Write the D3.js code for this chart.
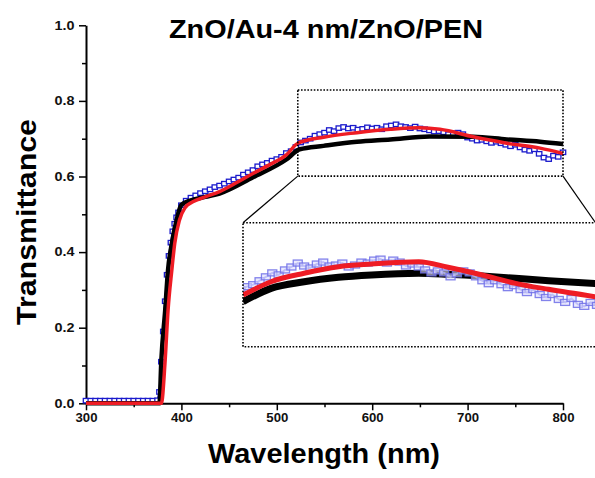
<!DOCTYPE html>
<html><head><meta charset="utf-8">
<script src="https://cdn.jsdelivr.net/npm/d3@7"></script>
<style>
body{margin:0;background:#fff}
text{font-family:Arial,"Liberation Sans",Helvetica,sans-serif;font-weight:bold}
</style>
</head><body>
<svg id="c" width="595" height="478"></svg>
<script>
// ---------- data ----------
const title = "ZnO/Au-4 nm/ZnO/PEN";
const xLabel = "Wavelength (nm)";
const yLabel = "Transmittance";
const xTicks = [300,400,500,600,700,800];
const xMinor = [350,450,550,650,750];
const yTicks = [0,0.2,0.4,0.6,0.8,1.0];
const yMinor = [0.1,0.3,0.5,0.7,0.9];

// black curve
const blackWl = [300,377,379,383,386,390,395,400,409,425,440,475,510,524,549,584,619,660,706,741,776,800];
const blackT  = [0,0,0.115,0.246,0.353,0.423,0.485,0.525,0.536,0.546,0.555,0.598,0.645,0.672,0.681,0.692,0.698,0.706,0.705,0.698,0.692,0.686];
// red curve
const redWl = [300,379,383,386,390,393,398,404,412,425,440,458,475,493,510,522,549,584,619,650,671,706,741,776,800];
const redT  = [0,0,0.115,0.246,0.353,0.423,0.485,0.518,0.533,0.546,0.560,0.584,0.608,0.632,0.657,0.688,0.704,0.716,0.725,0.729,0.725,0.705,0.688,0.675,0.661];
// blue measured points
const blueWl = [300,305,310,315,320,325,330,335,340,345,350,355,360,365,370,375,
  377,379,381,383,385,387,389,391,393,395,397,400,
  405,410,415,420,425,430,435,440,445,450,455,460,465,470,475,480,485,490,495,500,
  505,510,515,520,525,530,535,540,545,550,555,560,565,570,575,580,585,590,595,600,
  605,610,615,620,625,630,635,640,645,650,655,660,665,670,675,680,685,690,695,700,
  705,710,715,720,725,730,735,740,745,750,755,760,765,770,775,780,785,790,795,800];
const blueT = [0.007,0.007,0.007,0.007,0.007,0.007,0.007,0.007,0.007,0.007,0.007,0.007,0.007,0.007,0.007,0.008,
  0.03,0.11,0.19,0.27,0.34,0.39,0.425,0.455,0.475,0.492,0.505,0.524,
  0.536,0.544,0.550,0.556,0.561,0.566,0.572,0.576,0.581,0.587,0.592,0.597,0.605,0.611,0.617,0.627,0.632,0.636,0.642,0.646,
  0.652,0.662,0.667,0.678,0.690,0.695,0.700,0.708,0.712,0.716,0.723,0.720,0.728,0.731,0.727,0.729,0.724,0.726,0.730,0.727,
  0.729,0.725,0.733,0.735,0.738,0.733,0.731,0.728,0.732,0.727,0.725,0.722,0.719,0.720,0.717,0.712,0.714,0.716,0.712,0.703,
  0.700,0.695,0.697,0.693,0.689,0.692,0.688,0.684,0.680,0.684,0.677,0.671,0.668,0.672,0.660,0.650,0.646,0.655,0.652,0.664];

// magnified inset (as drawn in the enlarged box)
const insetRange = [522,800];
const insetTRange = [0.641,0.767];
const insetRedWl = [522,544,570,597,623,660,683,710,736,762,800];
const insetRedT  = [0.6935,0.707,0.7156,0.7223,0.725,0.7274,0.7217,0.7139,0.7054,0.6993,0.6915];
const insetBlackWl = [522,544,570,597,623,660,683,710,736,762,800];
const insetBlackT  = [0.6867,0.7003,0.707,0.7115,0.7139,0.7156,0.7146,0.7128,0.7105,0.7081,0.7052];
const insetBlueWl = [520,525,530,535,540,545,550,555,560,565,570,575,580,585,590,595,600,605,610,615,620,625,630,635,640,645,650,655,660,665,670,675,680,685,690,695,700,705,710,715,720,725,730,735,740,745,750,755,760,765,770,775,780,785,790,795,800];
const insetBlueT  = [0.699,0.702,0.704,0.708,0.712,0.716,0.714,0.719,0.722,0.726,0.723,0.721,0.725,0.727,0.723,0.724,0.726,0.722,0.724,0.727,0.726,0.729,0.730,0.726,0.729,0.727,0.723,0.725,0.722,0.719,0.716,0.718,0.716,0.712,0.715,0.718,0.716,0.712,0.708,0.705,0.708,0.704,0.701,0.703,0.699,0.696,0.699,0.694,0.691,0.694,0.689,0.686,0.690,0.684,0.682,0.686,0.683];
// zoom box in data units
const boxWl = [522,800];
const boxT = [0.601,0.829];

// ---------- drawing ----------
const svg = d3.select("#c");
const x = d3.scaleLinear().domain([300,800]).range([86,563]);
const y = d3.scaleLinear().domain([0,1]).range([403.3,25.3]);

const zip = (a,b)=>a.map((v,i)=>[v,b[i]]);

// title
svg.append("text").attr("x",326).attr("y",38).attr("text-anchor","middle")
  .attr("font-size",25).attr("textLength",314).attr("lengthAdjust","spacingAndGlyphs").text(title);
// axis titles
svg.append("text").attr("x",324).attr("y",463).attr("text-anchor","middle")
  .attr("font-size",27).attr("textLength",232).attr("lengthAdjust","spacingAndGlyphs").text(xLabel);
svg.append("text").attr("transform","translate(36,222) rotate(-90)").attr("text-anchor","middle")
  .attr("font-size",27).attr("textLength",206).attr("lengthAdjust","spacingAndGlyphs").text(yLabel);

// axes
function styleAxis(g){
  g.select(".domain").attr("stroke","#000").attr("stroke-width",2);
  g.selectAll(".tick line").attr("stroke","#000").attr("stroke-width",1.5);
  g.selectAll(".tick text").attr("font-size",12).attr("font-weight","bold")
   .attr("font-family","Arial, 'Liberation Sans', sans-serif").attr("fill","#111");
}
const gx = svg.append("g").attr("transform",`translate(0,${y(0)})`)
  .call(d3.axisBottom(x).tickValues(xTicks).tickSize(7).tickSizeOuter(0).tickPadding(3).tickFormat(d3.format("d")));
styleAxis(gx);
gx.selectAll(".tick text").attr("transform","scale(1.1,1)");
const gxm = svg.append("g").attr("transform",`translate(0,${y(0)})`)
  .call(d3.axisBottom(x).tickValues(xMinor).tickSize(4).tickSizeOuter(0).tickFormat(""));
gxm.select(".domain").remove(); styleAxis(gxm);
const gy = svg.append("g").attr("transform",`translate(${x(300)},0)`)
  .call(d3.axisLeft(y).tickValues(yTicks).tickSize(7).tickSizeOuter(0).tickPadding(3).tickFormat(d3.format(".1f")));
styleAxis(gy);
gy.selectAll(".tick text").attr("x",-9.6).attr("transform","scale(1.2,1)");
const gym = svg.append("g").attr("transform",`translate(${x(300)},0)`)
  .call(d3.axisLeft(y).tickValues(yMinor).tickSize(4).tickSizeOuter(0).tickFormat(""));
gym.select(".domain").remove(); styleAxis(gym);

// zoom box (dotted)
const bx0=x(boxWl[0]), bx1=x(boxWl[1]), by0=y(boxT[1]), by1=y(boxT[0]);
const ix = d3.scaleLinear().domain(insetRange).range([243,597]);
const iy = d3.scaleLinear().domain(insetTRange).range([346.7,222.7]);

// main curves
const line = d3.line().x(d=>x(d[0])).y(d=>y(d[1]));
const smooth = d3.line().x(d=>x(d[0])).y(d=>y(d[1])).curve(d3.curveMonotoneX);
svg.append("path").datum(zip(blueWl,blueT)).attr("d",line)
  .attr("fill","none").attr("stroke","#1a1acc").attr("stroke-width",2);
svg.append("g").selectAll("rect").data(zip(blueWl,blueT)).join("rect")
  .attr("x",d=>x(d[0])-2.7).attr("y",d=>y(d[1])-2.2).attr("width",5.4).attr("height",4.4)
  .attr("fill","#fff").attr("stroke","#1a1acc").attr("stroke-width",1.3);
svg.append("path").datum(zip(blackWl,blackT)).attr("d",smooth)
  .attr("fill","none").attr("stroke","#000").attr("stroke-width",4.5).attr("stroke-linejoin","round");
svg.append("path").datum(zip(redWl,redT)).attr("d",smooth)
  .attr("fill","none").attr("stroke","#ee1c24").attr("stroke-width",3.5).attr("stroke-linejoin","round");

// dotted zoom rectangle and connectors
svg.append("rect").attr("x",bx0).attr("y",by0).attr("width",bx1-bx0).attr("height",by1-by0)
  .attr("fill","none").attr("stroke","#000").attr("stroke-width",1.6).attr("stroke-dasharray","1.6 1.6");
svg.append("line").attr("x1",bx0).attr("y1",by1).attr("x2",ix(insetRange[0])).attr("y2",iy(insetTRange[1]))
  .attr("stroke","#000").attr("stroke-width",1.2);
svg.append("line").attr("x1",bx1).attr("y1",by1).attr("x2",ix(insetRange[1])-1.5).attr("y2",iy(insetTRange[1]))
  .attr("stroke","#000").attr("stroke-width",1.2);

// inset
svg.append("defs").append("clipPath").attr("id","ic").append("rect")
  .attr("x",ix(insetRange[0])).attr("y",iy(insetTRange[1]))
  .attr("width",ix(insetRange[1])-ix(insetRange[0])).attr("height",iy(insetTRange[0])-iy(insetTRange[1]));
const gi = svg.append("g").attr("clip-path","url(#ic)");
const iline = d3.line().x(d=>ix(d[0])).y(d=>iy(d[1]));
const ismooth = d3.line().x(d=>ix(d[0])).y(d=>iy(d[1])).curve(d3.curveMonotoneX);
gi.append("path").datum(zip(insetBlackWl,insetBlackT)).attr("d",ismooth)
  .attr("fill","none").attr("stroke","#000").attr("stroke-width",7);
gi.append("path").datum(zip(insetBlueWl,insetBlueT)).attr("d",iline)
  .attr("fill","none").attr("stroke","#7a7aee").attr("stroke-width",2).attr("opacity",0.8);
gi.append("g").selectAll("rect").data(zip(insetBlueWl,insetBlueT)).join("rect")
  .attr("x",d=>ix(d[0])-4.5).attr("y",d=>iy(d[1])-3).attr("width",9).attr("height",6)
  .attr("fill","#dcdcfb").attr("fill-opacity",0.6).attr("stroke","#6e6ee8").attr("stroke-width",1.3).attr("stroke-opacity",0.85);
gi.append("path").datum(zip(insetRedWl,insetRedT)).attr("d",ismooth)
  .attr("fill","none").attr("stroke","#ee1c24").attr("stroke-width",5);
svg.append("rect").attr("x",ix(insetRange[0])).attr("y",iy(insetTRange[1]))
  .attr("width",ix(insetRange[1])-ix(insetRange[0])).attr("height",iy(insetTRange[0])-iy(insetTRange[1]))
  .attr("fill","none").attr("stroke","#000").attr("stroke-width",1.6).attr("stroke-dasharray","1.6 1.6");
</script>
</body></html>
